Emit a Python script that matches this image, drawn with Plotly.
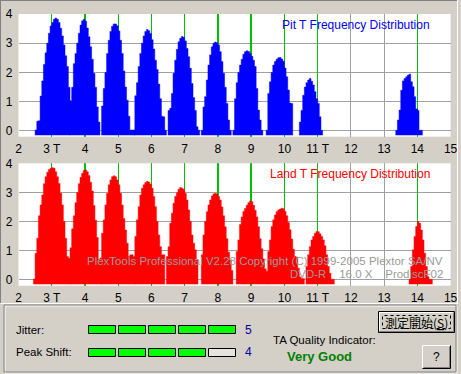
import plotly.graph_objects as go

W, H = 461, 374
BIN = 0.05          # histogram bin width in T
BASE = -0.15        # bars are drawn from this floor

# ---------------- data (log10 count per 0.05T bin) ----------------
pit_starts = [2.50, 3.55, 4.50, 5.50, 6.50, 7.50, 8.45, 9.45, 10.45, 13.35]
pit_3T = [0.03, 0.33, 0.35, 1.19, 1.71, 2.27, 2.67, 3.0, 3.34, 3.59, 3.71, 3.82, 3.86, 3.82, 3.71, 3.51, 3.25, 2.94, 2.57, 2.2, 1.49]
pit_4T = [1.03, 1.49, 2.3, 2.65, 3.0, 3.34, 3.62, 3.77, 3.82, 3.75, 3.52, 3.22, 2.88, 2.45, 1.97, 1.49, 0.82, 0.3]
pit_5T = [0.85, 1.45, 2.0, 2.65, 3.1, 3.4, 3.58, 3.66, 3.66, 3.6, 3.42, 3.1, 2.65, 2.05, 1.5, 1.05, 0.5, 0.03, 0.03, 0.03]
pit_6T = [1.2, 1.65, 2.2, 2.65, 3.0, 3.25, 3.4, 3.47, 3.43, 3.33, 3.12, 2.8, 2.42, 2.1, 1.6, 1.1, 0.5, 0.48, 0.02]
pit_7T = [0.7, 0.77, 1.28, 1.97, 2.42, 2.79, 3.05, 3.17, 3.23, 3.2, 3.08, 2.82, 2.54, 2.14, 1.62, 1.14, 0.7, 0.14, 0.02]
pit_8T = [0.02, 0.82, 1.17, 1.74, 2.25, 2.6, 2.88, 3.0, 3.04, 3.02, 2.94, 2.71, 2.37, 1.97, 1.49, 0.94, 0.37, 0.02]
pit_9T = [0.02, 1.1, 1.65, 2.0, 2.25, 2.45, 2.62, 2.71, 2.74, 2.72, 2.65, 2.55, 2.42, 2.2, 1.45, 0.71, 0.37, 0.02]
pit_10T = [0.02, 1.28, 1.68, 2.0, 2.25, 2.37, 2.45, 2.5, 2.51, 2.46, 2.38, 2.15, 1.85, 1.4, 0.95, 0.94]
pit_11T = [0.3, 0.7, 1.22, 1.5, 1.65, 1.74, 1.79, 1.7, 1.57, 1.34, 1.1, 0.94, 0.48, 0.02]
pit_14T = [0.02, 0.37, 0.71, 1.39, 1.71, 1.79, 1.85, 1.91, 1.94, 1.68, 1.51, 1.17, 0.75, 0.7, 0.02, 0.02]
pit_peaks = [pit_3T, pit_4T, pit_5T, pit_6T, pit_7T, pit_8T, pit_9T, pit_10T, pit_11T, pit_14T]

land_starts = [2.45, 3.55, 4.50, 5.50, 6.45, 7.50, 8.55, 9.50, 10.65, 13.75]
land_3T = [0.03, 0.91, 1.43, 2.2, 2.57, 2.91, 3.3, 3.54, 3.69, 3.79, 3.83, 3.85, 3.83, 3.71, 3.54, 3.31, 2.97, 2.57, 2.0, 1.43, 0.8, 0.74]
land_4T = [1.1, 1.75, 2.2, 2.65, 3.0, 3.3, 3.52, 3.66, 3.75, 3.77, 3.71, 3.58, 3.35, 3.05, 2.55, 2.05, 1.45, 0.7, 0.75]
land_5T = [1.6, 2.06, 2.57, 2.97, 3.26, 3.43, 3.54, 3.57, 3.54, 3.43, 3.26, 2.97, 2.57, 2.11, 1.71, 1.26, 0.8, 0.86, 0.86, 0.8]
land_6T = [1.49, 2.06, 2.51, 2.91, 3.14, 3.26, 3.34, 3.38, 3.36, 3.29, 3.14, 2.86, 2.51, 2.0, 1.54, 1.14, 0.86, 0.86]
land_7T = [0.8, 1.14, 1.94, 2.29, 2.63, 2.86, 2.99, 3.11, 3.17, 3.14, 3.11, 2.97, 2.74, 2.4, 2.0, 1.54, 1.26, 1.03, 0.69]
land_8T = [0.86, 1.54, 2.0, 2.34, 2.57, 2.74, 2.88, 2.95, 2.97, 2.95, 2.86, 2.74, 2.5, 2.2, 1.82, 1.41, 0.95, 0.67, 0.32]
land_9T = [0.97, 1.37, 1.9, 2.16, 2.35, 2.45, 2.56, 2.65, 2.71, 2.68, 2.56, 2.39, 2.16, 1.82, 1.41, 1.07, 0.72, 0.38, 0.3]
land_10T = [0.97, 1.37, 1.83, 2.06, 2.23, 2.34, 2.4, 2.43, 2.46, 2.44, 2.35, 2.2, 1.97, 1.72, 1.4, 1.05, 0.8, 0.78, 0.4, 0.1, 0.05, 0.05]
land_11T = [0.46, 0.86, 1.14, 1.37, 1.49, 1.6, 1.66, 1.65, 1.58, 1.49, 1.37, 1.17, 0.86, 0.46, 0.23, 0.02, 0.02]
land_14T = [0.02, 0.46, 1.03, 1.49, 1.83, 2.0, 1.94, 1.71, 1.37, 0.91, 0.46, 0.11, 0.02, 0.02]
land_peaks = [land_3T, land_4T, land_5T, land_6T, land_7T, land_8T, land_9T, land_10T, land_11T, land_14T]

t_marks = [3, 4, 5, 6, 7, 8, 9, 10, 11, 14]
x_ticks = list(range(2, 16))
x_ticklabels = ["2", "3 T", "4", "5", "6", "7", "8", "9", "10", "11 T", "12", "13", "14", "15"]
y_ticks = [0, 1, 2, 3, 4]

jitter_level = 5
peak_shift_level = 4
quality_text = "Very Good"

# ---------------- helpers ----------------
FONT = "Liberation Sans, Arial, sans-serif"
BG = "#d4d0c8"
Y0, Y1 = -0.2, 4.0
XPIX = (450.6 - 18.5) / 13.0   # pixels per T


def px(x):
    return x / W


def py(y):
    return 1 - y / H


def step_outline(starts, peaks):
    """Outline of the histogram bins (one closed stair polygon per peak)."""
    xs, ys = [], []
    for s, vals in zip(starts, peaks):
        xs.append(s)
        ys.append(BASE)
        for i, v in enumerate(vals):
            xs += [s + i * BIN, s + (i + 1) * BIN]
            ys += [v, v]
        xs.append(s + len(vals) * BIN)
        ys.append(BASE)
        xs.append(None)
        ys.append(None)
    return xs, ys


fig = go.Figure()
for xr, yr, color, starts, peaks in (("x", "y", "#0000ff", pit_starts, pit_peaks),
                                     ("x2", "y2", "#ff0000", land_starts, land_peaks)):
    # green T reference lines (bar layer, below the histogram)
    fig.add_trace(go.Bar(x=t_marks, y=[Y1 - Y0] * len(t_marks), base=Y0, width=1.4 / XPIX,
                         xaxis=xr, yaxis=yr, marker=dict(color="#00c000", line=dict(width=0)),
                         hoverinfo="skip", showlegend=False))
    hx, hy = step_outline(starts, peaks)
    fig.add_trace(go.Scatter(x=hx, y=hy, mode="lines", fill="toself", fillcolor=color,
                             line=dict(color=color, width=0.5), xaxis=xr, yaxis=yr,
                             hoverinfo="skip", showlegend=False, connectgaps=False))

xdom = [18.5 / W, 450.6 / W]
axis_common = dict(range=[2, 15], tickvals=x_ticks, ticktext=x_ticklabels, showgrid=True,
                   gridcolor="#a0a0a0", gridwidth=1, zeroline=False, showline=False,
                   ticks="", tickfont=dict(family=FONT, size=12, color="black"),
                   fixedrange=True, domain=xdom, ticklabelstandoff=3)
yaxis_common = dict(range=[Y0, Y1], tickvals=y_ticks, showgrid=True, gridcolor="#a0a0a0",
                    gridwidth=1, zeroline=False, showline=False, ticks="",
                    tickfont=dict(family=FONT, size=12, color="black"), fixedrange=True,
                    ticklabelstandoff=5)

shapes = []


def hline(x0, x1, y, color):
    shapes.append(dict(type="line", xref="paper", yref="paper", x0=px(x0), x1=px(x1),
                       y0=py(y), y1=py(y), line=dict(color=color, width=1)))


def vline(x, y0, y1, color):
    shapes.append(dict(type="line", xref="paper", yref="paper", x0=px(x), x1=px(x),
                       y0=py(y0), y1=py(y1), line=dict(color=color, width=1)))


def rect(x0, y0, x1, y1, fill, line="black", width=1, dash="solid"):
    shapes.append(dict(type="rect", xref="paper", yref="paper", x0=px(x0), x1=px(x1),
                       y0=py(y1), y1=py(y0), fillcolor=fill,
                       line=dict(color=line, width=width, dash=dash)))


# outer sunken frame around the graphs
hline(0, 458, 0.5, "#808080")
vline(0.5, 0, 304, "#808080")
vline(457.5, 0, 304, "#ffffff")
hline(0, 458, 303.5, "#ffffff")

# group box (etched)
rect(5, 306, 457, 373, "rgba(0,0,0,0)", line="#ffffff")
rect(4, 305, 456, 372, "rgba(0,0,0,0)", line="#808080")

# level indicators
for i in range(5):
    x0 = 88.5 + 30 * i
    rect(x0, 325.5, x0 + 27, 333.5, "#00ff00" if i < jitter_level else "#e6e4de")
    rect(x0, 348.5, x0 + 27, 356.5, "#00ff00" if i < peak_shift_level else "#e6e4de")

# button 1 (default button)
rect(378.5, 311.5, 454.5, 332.5, BG, line="black")
hline(379.5, 452.5, 312.5, "#ffffff")
vline(379.5, 312.5, 330.5, "#ffffff")
hline(379.5, 453.5, 331.5, "#808080")
vline(453.5, 312.5, 331.5, "#808080")
rect(382.5, 315.5, 450.5, 328.5, "rgba(0,0,0,0)", line="black", dash="dot")

# button 2 "?"
rect(422.5, 345.5, 450.5, 368.5, BG, line=BG)
hline(422.5, 450.5, 345.5, "#ffffff")
vline(422.5, 345.5, 368.5, "#ffffff")
hline(422.5, 450.5, 368.5, "#000000")
vline(450.5, 345.5, 368.5, "#000000")
hline(423.5, 449.5, 367.5, "#808080")
vline(449.5, 346.5, 367.5, "#808080")

ann = []


def text(x, y, s, size=12, color="black", anchor="left", bold=False, family=FONT):
    ann.append(dict(xref="paper", yref="paper", x=px(x), y=py(y), text=("<b>%s</b>" % s) if bold else s,
                    showarrow=False, xanchor=anchor, yanchor="middle",
                    font=dict(family=family, size=size, color=color)))


text(432, 25, "Pit T Frequency Distribution", 12, "#0000ff", "right")
text(432, 174, "Land T Frequency Distribution", 12, "#ff0000", "right")
text(445, 261, "PlexTools Professional V2.28 Copyright (C) 1999-2005 Plextor SA/NV", 11.5, "#9a9a9a", "right")
text(445, 274, "DVD-R&nbsp;&nbsp;&nbsp;&nbsp;16.0 X&nbsp;&nbsp;&nbsp;&nbsp;ProdiscF02", 11.5, "#9a9a9a", "right")

text(14, 330, "Jitter:", 11.5)
text(14, 352, "Peak Shift:", 11.5)
text(243, 330, str(jitter_level), 12, "#0000a0")
text(243, 352, str(peak_shift_level), 12, "#0000a0")
text(271, 340, "TA Quality Indicator:", 11.5)
text(319, 356, quality_text, 13, "#008000", "center", bold=True)
text(416.5, 322, "測定開始(<span style='text-decoration:underline'>S</span>)", 12, "black", "center",
     family="Noto Sans CJK JP, " + FONT)
text(436.5, 357, "?", 12, "black", "center")

fig.update_layout(
    width=W, height=H, autosize=False,
    margin=dict(l=0, r=0, t=0, b=0, autoexpand=False),
    paper_bgcolor=BG, plot_bgcolor="white",
    bargap=0, barmode="overlay",
    xaxis=dict(axis_common, anchor="y"),
    yaxis=dict(yaxis_common, domain=[1 - 136.7 / H, 1 - 14 / H], anchor="x"),
    xaxis2=dict(axis_common, anchor="y2"),
    yaxis2=dict(yaxis_common, domain=[1 - 285.7 / H, 1 - 163.3 / H], anchor="x2"),
    shapes=shapes, annotations=ann, showlegend=False,
)

fig.write_html("out.html", config={"displayModeBar": False, "staticPlot": True},
               post_script="document.body.style.margin='0px';document.body.style.overflow='hidden';")
